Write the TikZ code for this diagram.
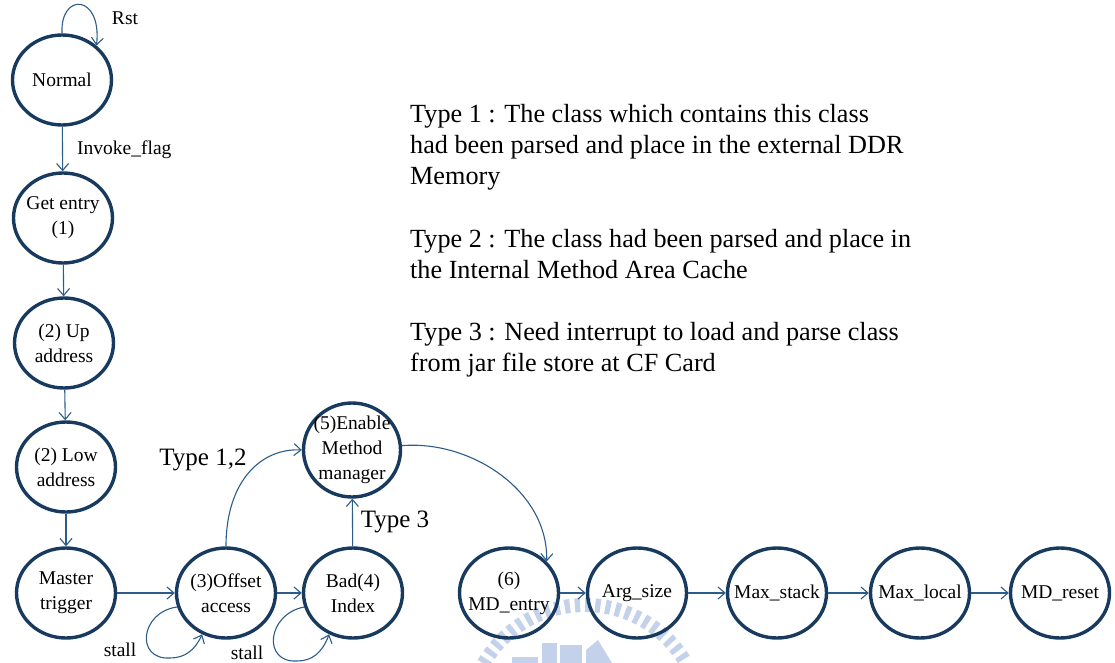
\documentclass[tikz,border=0pt]{standalone}
\usepackage{fontspec}
\setmainfont{Liberation Serif}
\usetikzlibrary{shapes.geometric,arrows.meta,calc}

\definecolor{statecol}{HTML}{173A5E}
\definecolor{edgecol}{HTML}{2B5C8A}
\definecolor{markcol}{HTML}{C3D2EA}

\tikzset{
  state/.style={ellipse, draw=statecol, line width=3.4pt, minimum width=99pt,
    minimum height=90pt, inner sep=0pt},
  statetext/.style={align=center, inner sep=0pt,
    font=\fontsize{19.5}{25}\selectfont},
  edge/.style={draw=edgecol, line width=1.1pt,
    -{Straight Barb[length=7pt,width=12pt,line width=1.1pt]}},
  lbl/.style={font=\fontsize{19.5}{25}\selectfont, inner sep=0pt},
  biglbl/.style={font=\fontsize{25}{31}\selectfont, inner sep=0pt},
  note/.style={font=\fontsize{26.2}{31}\selectfont, inner sep=0pt, anchor=base west},
  crestpart/.style={fill=markcol, draw=none}
}
% a state: fixed ellipse with its caption centred inside
\newcommand{\statenode}[4][]{%
  \node[state,#1,label={[statetext]center:{#4}}] (#2) at #3 {};}

\begin{document}
\begin{tikzpicture}[x=1pt,y=-1pt]
\useasboundingbox (0,0) rectangle (1115,663);

% faint crest in the lower middle
\coordinate (cc) at (585,722);
\foreach \a in {-155,-150,...,-35} {
  \fill[crestpart] ($(cc)+(\a:110)$) -- ($(cc)+(\a:124)$) -- ($(cc)+(\a+2.6:124)$) -- ($(cc)+(\a+2.6:110)$) -- cycle;
}
\fill[crestpart] (512,657) rectangle (538,663);
\fill[crestpart] (542,643) rectangle (557,663);
\fill[crestpart] (560,645) rectangle (582,663);
\fill[crestpart] (586,650) -- (598,640) -- (612,663) -- (586,663) -- cycle;

% states
\statenode{nrm}{(62,80)}{Normal}
\statenode{get}{(63,218)}{Get entry\\(1)}
\statenode{up}{(64,343)}{(2) Up\\address}
\statenode{low}{(66,467)}{(2) Low\\address}
\statenode{mst}{(66,593)}{Master\\trigger}
\statenode{off}{(226,593)}{(3)Offset\\access}
\statenode{bad}{(353,593)}{Bad(4)\\Index}
\statenode[minimum width=97pt, minimum height=94pt]{en}{(352,450)}{(5)Enable\\Method\\manager}
\statenode{md}{(509,593)}{(6)\\MD\_entry}
\statenode{arg}{(637,593)}{Arg\_size}
\statenode{mxs}{(777,593)}{Max\_stack}
\statenode{mxl}{(920,593)}{Max\_local}
\statenode{rst}{(1060,593)}{MD\_reset}

% transitions
\draw[edge] (nrm.north) .. controls (60,-8) and (102,-6) .. (nrm.45);
\node[lbl] (rstl) at (125,18) {Rst};

\draw[edge] (nrm) -- (get);
\node[lbl, anchor=west] (invl) at (77,150) {Invoke\_flag};
\draw[edge] (get) -- (up);
\draw[edge] (up) -- (low);
\draw[edge] (low) -- (mst);
\draw[edge] (mst) -- (off);
\draw[edge] (off) -- (bad);

\draw[edge] (off.north) .. controls (226,480) and (262,448) .. (en.west);
\node[biglbl] (t12) at (203,460) {Type 1,2};
\draw[edge] (bad) -- (en);
\node[biglbl] (t3) at (395,522) {Type 3};

\draw[edge] (en.5) .. controls (470,440) and (548,490) .. (md.40);

\draw[edge] (md) -- (arg);
\draw[edge] (arg) -- (mxs);
\draw[edge] (mxs) -- (mxl);
\draw[edge] (mxl) -- (rst);

% stall self-loops
\draw[edge] (off.196) .. controls (140,612) and (135,660) .. (170,658)
  .. controls (185,658) and (195,650) .. (off.240);
\node[lbl] (st1) at (120,650) {stall};
\draw[edge] (bad.196) .. controls (267,614) and (262,663) .. (297,661)
  .. controls (312,661) and (322,653) .. (bad.240);
\node[lbl] (st2) at (247,653) {stall};

% legend
\node[note] (n1) at (410,123) {Type 1 : The class which contains this class};
\node[note] (n2) at (410,154) {had been parsed and place in the external DDR};
\node[note] (n3) at (410,185) {Memory};
\node[note] (n4) at (410,247) {Type 2 : The class had been parsed and place in};
\node[note] (n5) at (410,278) {the Internal Method Area Cache};
\node[note] (n6) at (410,340) {Type 3 : Need interrupt to load and parse class};
\node[note] (n7) at (410,371) {from jar file store at CF Card};
\end{tikzpicture}
\end{document}
